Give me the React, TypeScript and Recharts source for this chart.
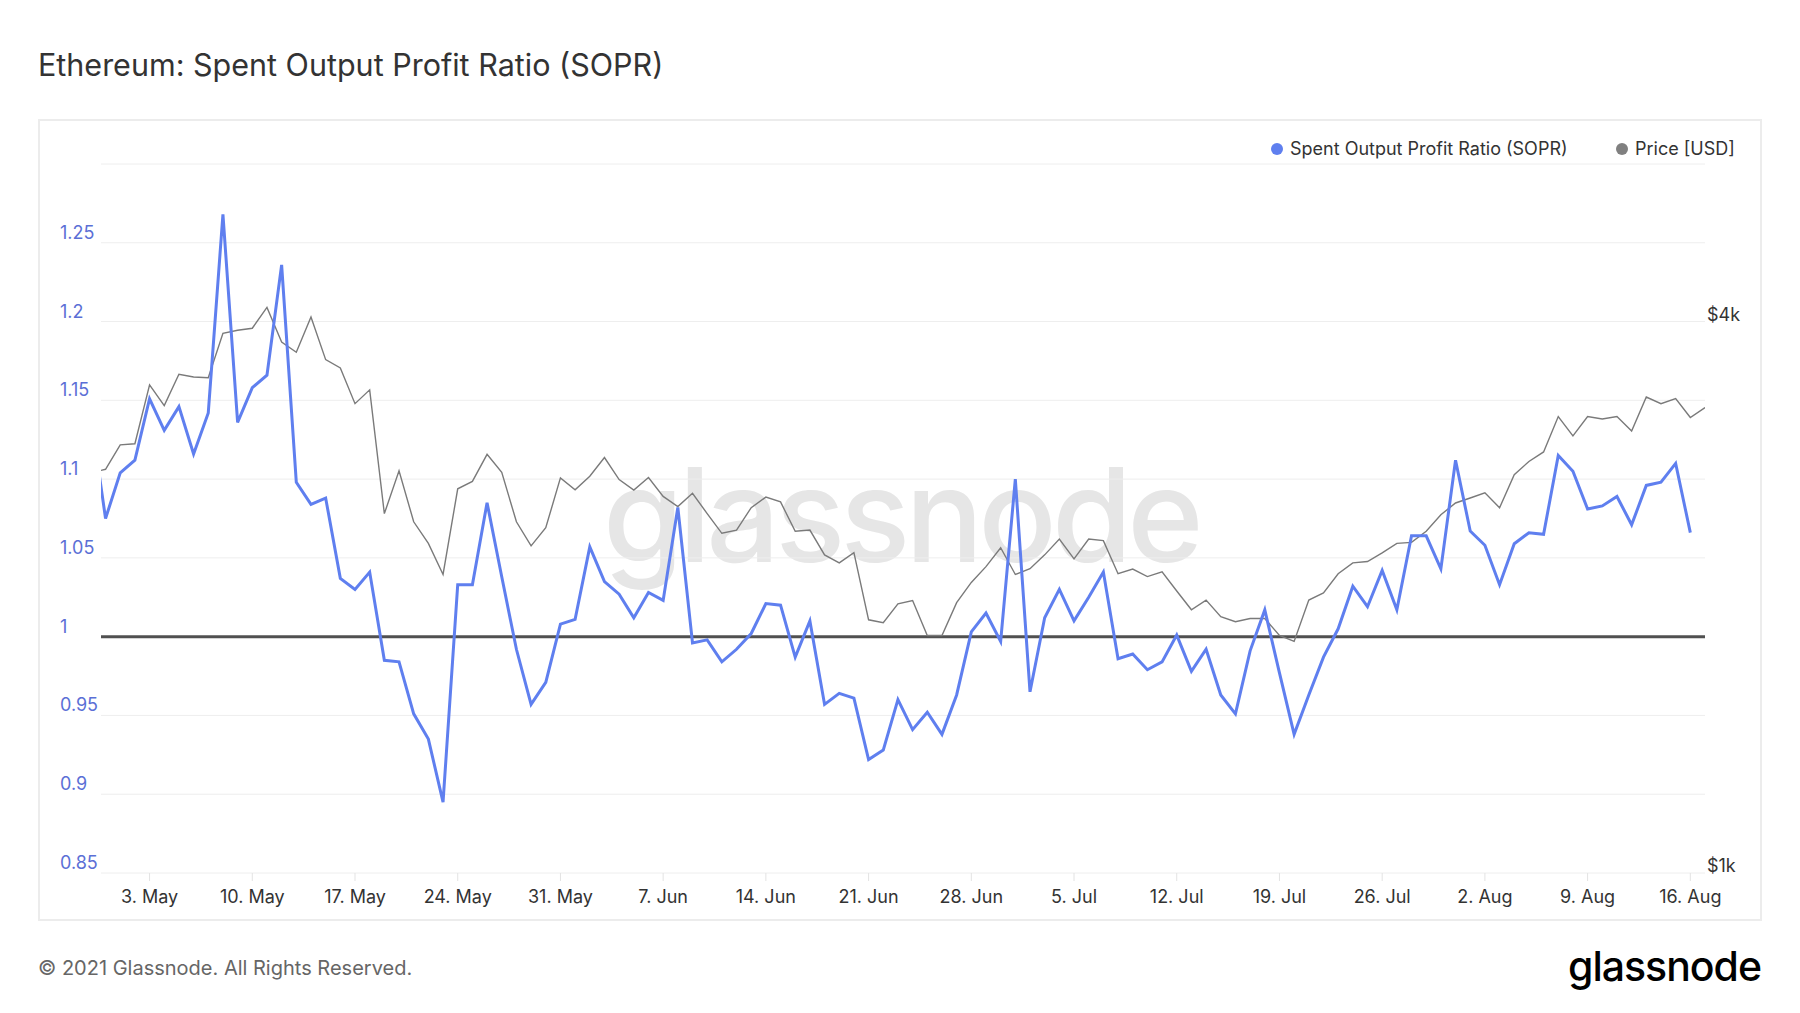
import { LineChart, Line, XAxis, YAxis, CartesianGrid, ReferenceLine } from 'recharts'

const DAY = 86400000
// first point is 29 Apr 2021, one value per day
const START = Date.UTC(2021, 3, 29)

// Apr 29 .. Aug 16
const SOPR = [
  1.14, 1.075,
  1.104, 1.112, 1.151, 1.131, 1.146, 1.116, 1.142, 1.268, 1.136, 1.158,
  1.166, 1.236, 1.098, 1.084, 1.088, 1.037, 1.03, 1.041, 0.985, 0.984,
  0.951, 0.935, 0.895, 1.033, 1.033, 1.085, 1.038, 0.992, 0.957, 0.971, 1.008,
  1.011, 1.057, 1.035, 1.027, 1.012, 1.028, 1.023, 1.082, 0.996, 0.998,
  0.984, 0.992, 1.002, 1.021, 1.02, 0.987, 1.01, 0.957, 0.964, 0.961,
  0.922, 0.928, 0.96, 0.941, 0.952, 0.938, 0.963, 1.003, 1.015, 0.997,
  1.1, 0.965, 1.012, 1.03, 1.01, 1.025, 1.041, 0.986, 0.989, 0.979,
  0.984, 1.001, 0.978, 0.992, 0.963, 0.951, 0.991, 1.017, 0.977, 0.938,
  0.963, 0.987, 1.005, 1.032, 1.019, 1.042, 1.017, 1.064, 1.064, 1.043, 1.112,
  1.067, 1.058, 1.033, 1.059, 1.066, 1.065, 1.115, 1.105, 1.081, 1.083,
  1.089, 1.071, 1.096, 1.098, 1.11, 1.066,
]

// Apr 29 .. Aug 17, USD
const PRICE = [
  2735, 2759,
  2934, 2942, 3412, 3238, 3504, 3480, 3473, 3883, 3914, 3933,
  4145, 3800, 3703, 4047, 3635, 3560, 3254, 3369, 2468, 2748,
  2418, 2290, 2118, 2627, 2676, 2865, 2738, 2418, 2276, 2382, 2700,
  2621, 2711, 2842, 2689, 2619, 2703, 2577, 2512, 2598, 2468,
  2349, 2368, 2505, 2573, 2542, 2361, 2368, 2225, 2181, 2238,
  1890, 1876, 1967, 1984, 1817, 1817, 1973, 2076, 2160, 2265,
  2118, 2149, 2225, 2315, 2203, 2315, 2306, 2122, 2147, 2107,
  2132, 2032, 1938, 1986, 1905, 1881, 1896, 1896, 1817, 1790,
  1986, 2022, 2122, 2181, 2188, 2236, 2290, 2296, 2361, 2461, 2535,
  2567, 2601, 2505, 2722, 2814, 2882, 3150, 3001, 3150, 3131,
  3150, 3037, 3309, 3254, 3296, 3143, 3222,
]

const SOPR_TICKS = [0.85, 0.9, 0.95, 1, 1.05, 1.1, 1.15, 1.2, 1.25, 1.3]
const PRICE_TICKS = [1000, 4000]
const DATE_TICKS = [
  '2021-05-03', '2021-05-10', '2021-05-17', '2021-05-24', '2021-05-31',
  '2021-06-07', '2021-06-14', '2021-06-21', '2021-06-28', '2021-07-05',
  '2021-07-12', '2021-07-19', '2021-07-26', '2021-08-02', '2021-08-09',
  '2021-08-16',
]
const MONTHS = ['Jan', 'Feb', 'Mar', 'Apr', 'May', 'Jun', 'Jul', 'Aug', 'Sep', 'Oct', 'Nov', 'Dec']

const BLUE = '#5f7fef'
const GREY = '#7a7a7a'
const FONT = 'Inter, "Noto Sans", sans-serif'

const data = PRICE.map((p, i) => ({
  t: START + i * DAY,
  price: p,
  sopr: i < SOPR.length ? SOPR[i] : null,
}))

const xTicks = DATE_TICKS.map((d) => Date.parse(d + 'T00:00:00Z'))
const xDomain = [Date.UTC(2021, 3, 30) - 0.31 * DAY, Date.UTC(2021, 7, 17)]
const priceTop = 1000 * Math.pow(4, 0.45 / 0.35)

function SoprTick({ y, payload }: any) {
  if (payload.value >= 1.3) return <g />
  return (
    <text x={60} y={y - 4} fill="#5b6fd6" fontSize={18} fontFamily={FONT}>
      {String(payload.value)}
    </text>
  )
}

function PriceTick({ y, payload }: any) {
  return (
    <text x={1707} y={y - 1} fill="#333" fontSize={18} fontFamily={FONT}>
      {'$' + payload.value / 1000 + 'k'}
    </text>
  )
}

function DateTick({ x, payload }: any) {
  const d = new Date(payload.value)
  return (
    <text x={x} y={903} textAnchor="middle" fill="#333" fontSize={18} fontFamily={FONT}>
      {d.getUTCDate() + '. ' + MONTHS[d.getUTCMonth()]}
    </text>
  )
}

function LegendItem({ left, color, label }: { left: number; color: string; label: string }) {
  return (
    <div style={{ position: 'absolute', left, top: 136, fontSize: 18, color: '#333', lineHeight: '24px', whiteSpace: 'nowrap' }}>
      <span
        style={{
          display: 'inline-block', width: 12, height: 12, borderRadius: 6,
          background: color, marginRight: 7, verticalAlign: 'middle',
        }}
      />
      <span style={{ verticalAlign: 'middle' }}>{label}</span>
    </div>
  )
}

export default function App() {
  return (
    <div style={{ position: 'absolute', left: 0, top: 0, width: 1800, height: 1013, background: '#fff', fontFamily: FONT, overflow: 'hidden' }}>
      <div style={{ position: 'absolute', left: 38, top: 46, fontSize: 30.5, color: '#333', lineHeight: '38px' }}>
        Ethereum: Spent Output Profit Ratio (SOPR)
      </div>

      <div style={{ position: 'absolute', left: 38, top: 119, width: 1724, height: 802, border: '2px solid #ececec', boxSizing: 'border-box' }} />

      <div style={{ position: 'absolute', left: 603, top: 440, fontSize: 130, fontWeight: 500, color: '#e6e6e6', letterSpacing: -5, lineHeight: '150px' }}>
        glassnode
      </div>

      <LegendItem left={1271} color={BLUE} label="Spent Output Profit Ratio (SOPR)" />
      <LegendItem left={1616} color="#808080" label="Price [USD]" />

      <LineChart
        width={1800}
        height={1013}
        data={data}
        margin={{ top: 164, right: 0, bottom: 0, left: 0 }}
        style={{ position: 'absolute', left: 0, top: 0 }}
      >
        <CartesianGrid yAxisId="sopr" vertical={false} stroke="#eeeeee" strokeWidth={1} />
        <XAxis
          dataKey="t"
          type="number"
          domain={xDomain}
          allowDataOverflow
          ticks={xTicks}
          interval={0}
          height={140}
          axisLine={false}
          tickLine={{ stroke: '#e3e3e3' }}
          tickSize={8}
          tick={<DateTick />}
        />
        <YAxis
          yAxisId="sopr"
          orientation="left"
          width={101}
          domain={[0.85, 1.3]}
          ticks={SOPR_TICKS}
          interval={0}
          axisLine={false}
          tickLine={false}
          tick={<SoprTick />}
        />
        <YAxis
          yAxisId="price"
          orientation="right"
          width={95}
          scale="log"
          domain={[1000, priceTop]}
          ticks={PRICE_TICKS}
          interval={0}
          axisLine={false}
          tickLine={false}
          tick={<PriceTick />}
        />
        <ReferenceLine yAxisId="sopr" y={1} stroke="#505050" strokeWidth={3} />
        <Line
          yAxisId="price"
          dataKey="price"
          stroke={GREY}
          strokeWidth={1.4}
          dot={false}
          activeDot={false}
          isAnimationActive={false}
        />
        <Line
          yAxisId="sopr"
          dataKey="sopr"
          stroke={BLUE}
          strokeWidth={3}
          dot={false}
          activeDot={false}
          isAnimationActive={false}
        />
      </LineChart>

      <div style={{ position: 'absolute', left: 38, top: 954, fontSize: 20, color: '#666', lineHeight: '28px' }}>
        © 2021 Glassnode. All Rights Reserved.
      </div>
      <div style={{ position: 'absolute', left: 1568, top: 941, fontSize: 41, fontWeight: 500, color: '#000', letterSpacing: -1, lineHeight: '50px' }}>
        glassnode
      </div>
    </div>
  )
}
